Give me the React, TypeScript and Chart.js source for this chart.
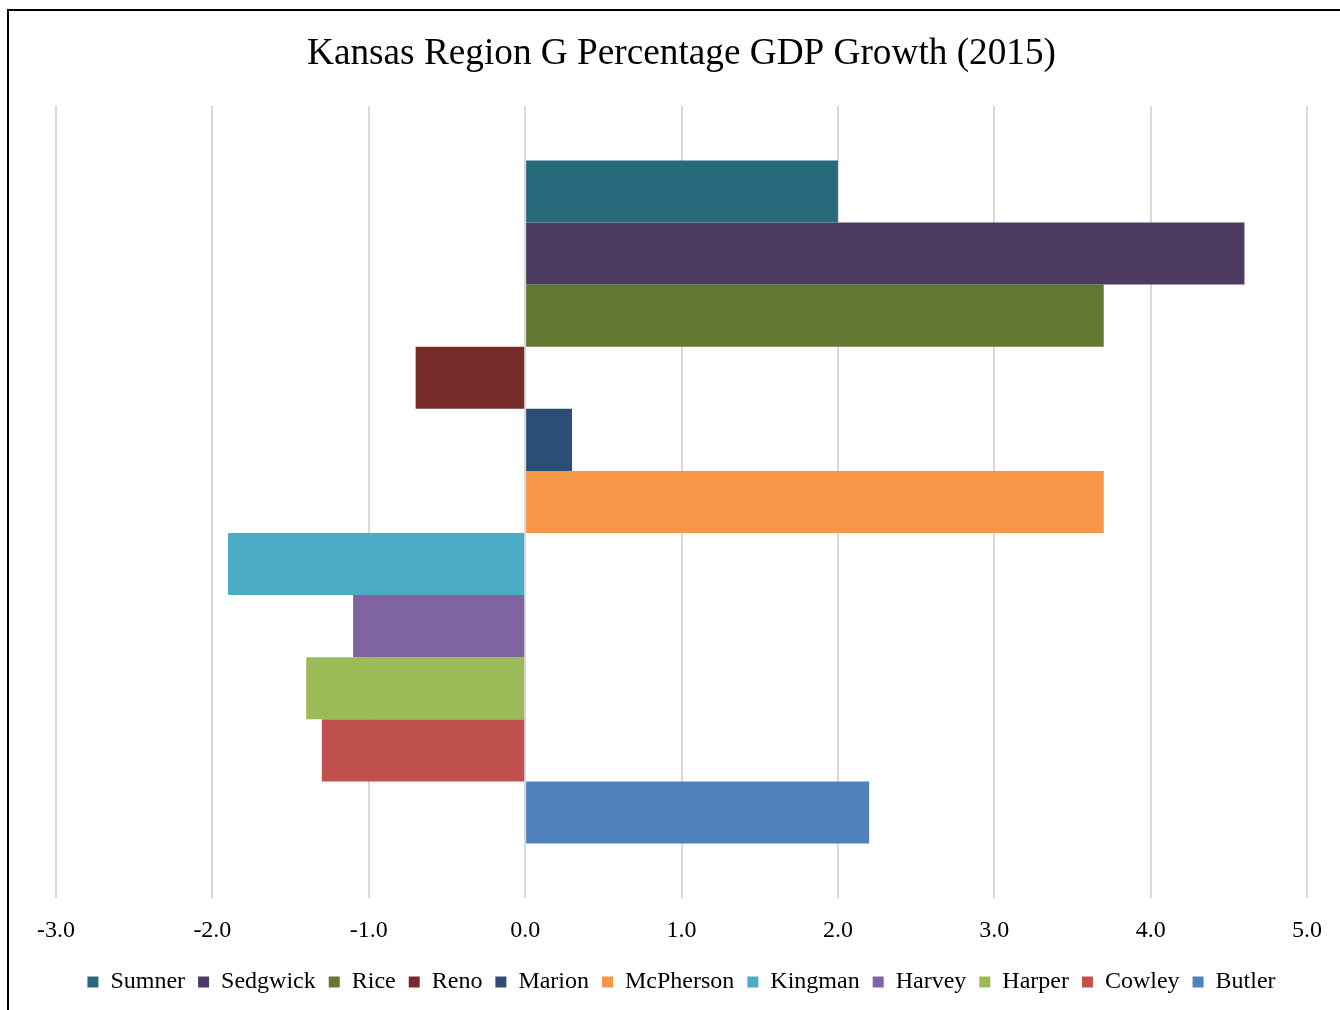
import React, { useEffect, useRef } from "react";
import { Chart, registerables } from "chart.js";

Chart.register(...registerables);

const categories = ["2015"];
const seriesNames = [
  "Sumner", "Sedgwick", "Rice", "Reno", "Marion", "McPherson",
  "Kingman", "Harvey", "Harper", "Cowley", "Butler",
];
const seriesValues = [2.0, 4.6, 3.7, -0.7, 0.3, 3.7, -1.9, -1.1, -1.4, -1.3, 2.2];
const seriesColors = [
  "#276a7c", "#4e3b62", "#627731", "#772c2a", "#2c4d75", "#f79646",
  "#4bacc6", "#8064a2", "#9bbb59", "#c0504d", "#4f81bd",
];
const xMin = -3;
const xMax = 5;
const xStep = 1;

const FONT = "'Liberation Serif', 'Times New Roman', serif";

export default function App() {
  const ref = useRef<HTMLCanvasElement | null>(null);

  useEffect(() => {
    if (!ref.current) return;
    const chart = new Chart(ref.current, {
      type: "bar",
      data: {
        labels: categories,
        datasets: seriesNames.map((name, i) => ({
          label: name,
          data: [seriesValues[i]],
          backgroundColor: seriesColors[i],
          borderWidth: 0,
          barPercentage: 1,
          categoryPercentage: 0.862,
        })),
      },
      options: {
        indexAxis: "y",
        responsive: false,
        animation: false,
        layout: { padding: { left: 47, right: 34, top: 0, bottom: 6 } },
        plugins: {
          title: {
            display: true,
            text: "Kansas Region G Percentage GDP Growth (2015)",
            color: "#000",
            font: { family: FONT, size: 37.25, weight: "normal" },
            padding: { top: 21, bottom: 29 },
          },
          legend: {
            position: "bottom",
            labels: {
              color: "#000",
              font: { family: FONT, size: 24 },
              boxWidth: 11,
              boxHeight: 11,
              padding: 7,
              generateLabels: (c: any) => {
                const items = Chart.defaults.plugins.legend.labels.generateLabels(c);
                return items.map((l: any, i: number) => ({
                  ...l,
                  text: i < items.length - 1 ? l.text + " " : l.text,
                }));
              },
            },
          },
          tooltip: { enabled: false },
        },
        scales: {
          x: {
            type: "linear",
            min: xMin,
            max: xMax,
            ticks: {
              stepSize: xStep,
              color: "#000",
              font: { family: FONT, size: 24 },
              padding: 18,
              callback: (v: any) => Number(v).toFixed(1),
            },
            grid: { color: "#d9d9d9", lineWidth: 2, drawTicks: false },
            border: { display: false },
          },
          y: {
            display: false,
            grid: { display: false },
          },
        },
      },
    });
    return () => chart.destroy();
  }, []);

  return (
    <div
      style={{
        position: "fixed",
        left: 7,
        top: 9,
        width: 1333,
        height: 1001,
        borderTop: "2px solid #000",
        borderLeft: "2px solid #000",
        boxSizing: "border-box",
        overflow: "hidden",
        background: "#fff",
      }}
    >
      <canvas
        ref={ref}
        width={1332}
        height={999}
        style={{ position: "absolute", left: 0, top: 0 }}
      />
    </div>
  );
}
